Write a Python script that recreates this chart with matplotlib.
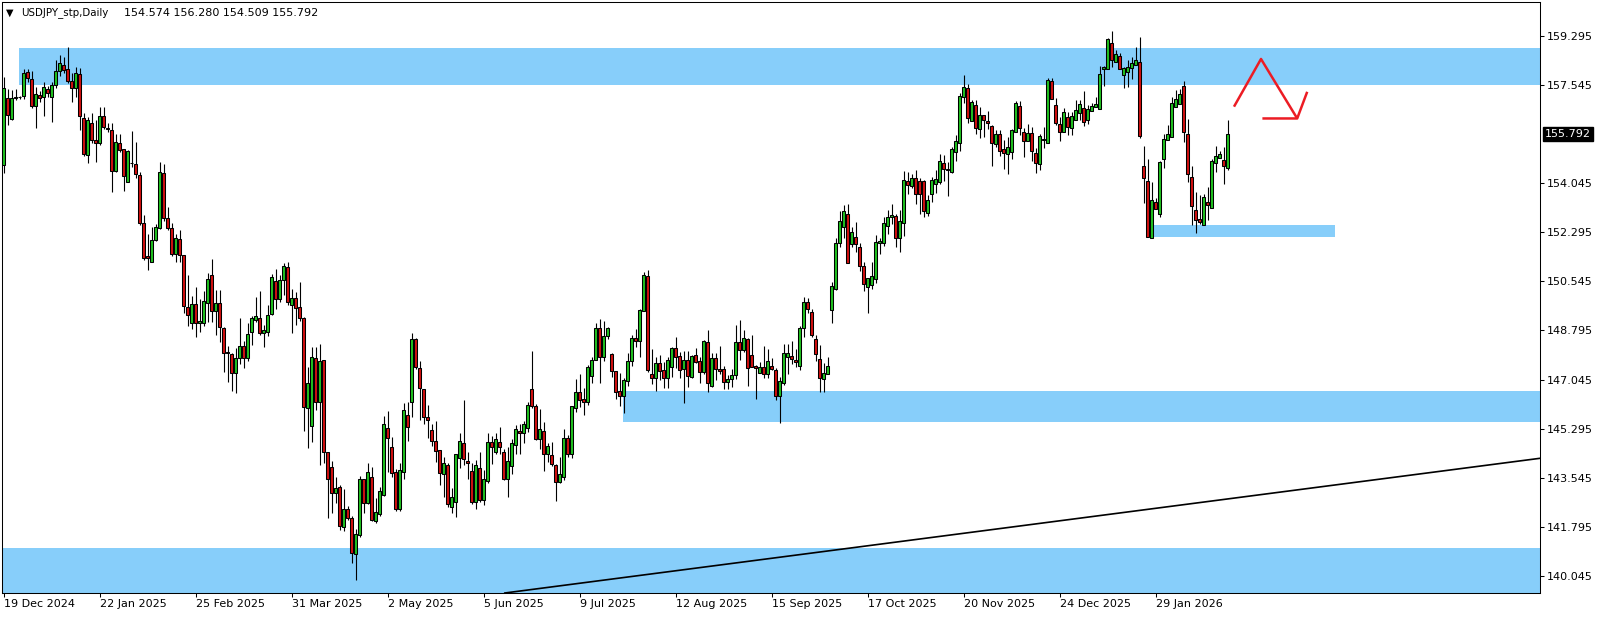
import numpy as np
import matplotlib.pyplot as plt

# USDJPY daily candles, bar 0 = 19 Dec 2024
opens = [
    154.69, 157.07, 156.32, 157.07, 157.10, 157.16, 157.99, 157.74, 156.80, 157.18,
    157.12, 157.40, 157.12, 157.53, 158.04, 158.25, 158.11, 157.68, 157.45, 157.93,
    156.38, 155.05, 156.20, 155.58, 155.46, 156.45, 156.00, 155.94, 154.49, 155.46,
    155.26, 154.07, 154.77, 154.71, 154.33, 152.61, 151.45, 151.22, 152.02, 152.46,
    154.39, 152.79, 152.43, 151.51, 152.04, 151.48, 149.64, 149.07, 149.74, 149.05,
    149.07, 149.76, 150.77, 149.50, 149.76, 148.90, 148.04, 147.94, 147.27, 147.80,
    148.24, 147.80, 148.75, 149.17, 149.23, 148.72, 148.73, 149.38, 150.56, 149.90,
    150.59, 151.04, 149.72, 149.94, 149.62, 149.23, 146.05, 145.40, 147.80, 146.26,
    147.76, 144.45, 143.92, 143.02, 143.20, 141.80, 142.42, 142.10, 140.82, 141.50,
    143.49, 142.63, 143.58, 142.00, 142.25, 142.95, 145.33, 144.65, 143.74, 142.42,
    143.76, 145.80, 146.23, 148.48, 147.44, 146.70, 145.70, 145.25, 144.85, 144.53,
    143.67, 144.00, 142.49, 142.69, 144.26, 144.80, 144.14, 143.78, 142.69, 143.88,
    142.77, 143.44, 144.83, 144.47, 144.83, 144.47, 143.49, 143.97, 144.73, 145.21,
    145.13, 145.31, 146.70, 146.10, 144.91, 145.21, 144.38, 144.35, 144.00, 143.40,
    143.58, 144.97, 144.41, 146.05, 146.59, 146.35, 146.25, 147.18, 147.74, 148.87,
    147.84, 148.59, 147.95, 147.35, 146.64, 146.47, 147.00, 147.72, 148.51, 148.43,
    149.50, 150.73, 147.23, 147.09, 147.62, 147.38, 147.11, 147.48, 148.16, 147.88,
    147.41, 147.76, 147.15, 147.92, 147.70, 147.32, 148.37, 146.83, 147.80, 147.42,
    147.41, 146.95, 147.05, 147.20, 148.37, 148.10, 148.48, 147.92, 147.53, 147.29,
    147.48, 147.24, 147.53, 147.38, 146.47, 146.91, 147.86, 147.90, 147.74, 147.54,
    148.87, 149.82, 149.44, 148.48, 147.77, 147.08, 147.23, 149.52, 150.26, 151.90,
    152.49, 152.93, 151.86, 152.14, 151.76, 151.09, 150.36, 150.41, 150.62, 151.90,
    151.92, 152.53, 152.83, 152.87, 152.10, 152.64, 154.12, 153.95, 154.22, 154.12,
    154.12, 152.97, 153.66, 154.00, 154.07, 154.75, 154.56, 154.45, 155.17, 155.46,
    157.12, 157.42, 156.27, 156.83, 155.96, 156.47, 156.26, 156.08, 155.43, 155.78,
    155.26, 155.07, 155.17, 155.85, 156.79, 155.85, 155.56, 155.82, 155.11, 154.71,
    155.62, 155.46, 157.68, 156.83, 156.14, 155.88, 156.39, 156.00, 156.29, 156.53,
    156.71, 156.29, 156.61, 156.75, 156.67, 158.10, 158.10, 159.03, 158.37, 158.57,
    157.90, 157.99, 158.14, 158.25, 158.35, 154.66, 154.12, 152.08, 153.36, 152.93,
    154.89, 155.58, 155.68, 156.77, 156.85, 157.51, 155.78, 154.27, 153.09, 152.77,
    152.55, 153.36, 153.15, 154.78, 154.93, 154.87, 154.574,
]
highs = [
    157.84, 157.39, 157.36, 157.39, 157.16, 158.11, 158.11, 158.05, 157.48, 157.32,
    157.66, 157.50, 157.64, 158.43, 158.61, 158.55, 158.91, 157.96, 158.19, 158.14,
    156.55, 156.41, 156.53, 156.29, 156.75, 156.75, 156.18, 156.18, 155.78, 155.79,
    155.26, 155.23, 155.90, 155.52, 154.43, 152.91, 152.25, 152.49, 152.59, 154.81,
    154.71, 153.21, 152.61, 152.25, 152.37, 151.48, 150.77, 150.02, 150.33, 149.90,
    150.20, 150.83, 151.34, 150.24, 150.24, 148.93, 148.24, 148.00, 148.16, 149.23,
    148.42, 149.07, 149.31, 150.00, 150.20, 148.99, 149.70, 150.79, 150.97, 150.77,
    151.21, 151.22, 150.29, 150.15, 150.51, 149.26, 147.50, 148.19, 148.19, 148.31,
    147.76, 144.47, 144.14, 143.58, 143.29, 143.13, 142.54, 142.19, 141.71, 143.62,
    143.49, 144.08, 143.94, 142.81, 143.23, 145.76, 145.94, 145.01, 143.85, 144.06,
    146.20, 146.23, 148.69, 148.54, 147.71, 146.70, 146.14, 145.48, 145.57, 144.53,
    144.30, 144.09, 143.17, 144.41, 145.13, 146.32, 144.47, 144.06, 144.18, 144.47,
    143.84, 145.15, 145.03, 145.15, 145.36, 144.56, 144.65, 144.91, 145.42, 145.48,
    145.58, 146.26, 148.07, 146.16, 145.98, 145.54, 144.79, 144.83, 144.03, 144.30,
    145.27, 145.07, 146.10, 147.05, 147.24, 146.76, 147.56, 147.84, 149.07, 149.22,
    149.14, 148.93, 147.98, 147.35, 147.27, 147.09, 148.00, 148.63, 148.85, 149.55,
    150.89, 150.95, 148.13, 147.86, 147.92, 147.68, 147.86, 148.22, 148.55, 148.04,
    148.07, 148.07, 147.92, 148.16, 147.86, 148.45, 148.81, 147.98, 147.98, 148.24,
    147.53, 147.20, 147.41, 148.99, 149.17, 148.81, 148.51, 148.63, 147.56, 147.68,
    148.24, 148.12, 147.80, 147.44, 147.15, 148.31, 148.30, 148.43, 148.13, 148.95,
    150.00, 149.97, 149.56, 148.63, 148.28, 147.62, 147.84, 150.51, 152.08, 153.05,
    153.27, 153.30, 152.49, 152.65, 151.90, 151.25, 150.65, 151.25, 152.20, 152.10,
    152.83, 153.09, 153.30, 152.94, 153.09, 154.49, 154.45, 154.36, 154.51, 154.22,
    154.16, 153.62, 154.28, 154.51, 155.08, 155.05, 154.81, 155.34, 155.76, 157.25,
    157.90, 157.58, 157.01, 157.01, 156.77, 156.47, 156.61, 156.12, 155.94, 155.94,
    155.58, 155.68, 155.99, 156.97, 156.98, 156.00, 156.17, 156.03, 155.28, 155.80,
    156.03, 157.80, 157.80, 157.07, 156.41, 156.71, 156.59, 156.59, 157.01, 157.01,
    157.34, 156.83, 156.89, 157.10, 158.22, 158.22, 159.23, 159.46, 158.79, 158.67,
    158.19, 158.43, 158.53, 158.88, 159.24, 155.37, 154.89, 154.07, 153.53, 154.85,
    155.78, 156.12, 157.13, 157.36, 157.39, 157.68, 156.33, 154.67, 153.74, 153.62,
    153.66, 153.92, 154.89, 155.37, 155.20, 155.34, 156.28,
]
lows = [
    154.42, 156.12, 156.29, 157.01, 157.05, 157.04, 157.66, 156.72, 156.02, 156.92,
    156.44, 157.10, 156.23, 157.45, 157.86, 157.98, 157.60, 156.92, 157.10, 155.94,
    155.02, 154.75, 155.46, 154.79, 155.40, 155.99, 155.88, 153.72, 154.45, 155.16,
    153.78, 154.07, 154.63, 154.22, 152.55, 151.30, 150.95, 151.22, 152.00, 152.40,
    152.70, 152.37, 151.45, 151.24, 151.24, 149.40, 148.95, 148.83, 148.57, 148.75,
    148.95, 149.11, 149.11, 148.63, 148.39, 147.33, 146.97, 146.65, 146.58, 147.59,
    147.44, 147.72, 148.28, 149.11, 148.63, 148.19, 148.61, 149.34, 149.56, 149.82,
    150.06, 149.70, 148.72, 148.99, 149.13, 145.22, 144.59, 144.83, 145.96, 144.00,
    144.06, 142.10, 142.28, 142.63, 141.68, 141.66, 142.05, 140.52, 139.90, 141.45,
    142.30, 142.60, 142.01, 141.95, 142.20, 142.90, 143.76, 143.58, 142.37, 142.37,
    143.49, 144.87, 145.72, 147.41, 145.60, 145.46, 144.95, 144.68, 144.12, 143.29,
    142.85, 142.51, 142.28, 142.16, 143.88, 144.00, 143.49, 142.60, 142.42, 142.70,
    142.57, 143.37, 144.02, 144.41, 144.38, 143.46, 142.85, 143.67, 144.39, 144.39,
    144.77, 145.19, 146.05, 144.89, 144.56, 143.80, 144.12, 143.96, 142.73, 143.37,
    143.46, 144.27, 144.25, 145.90, 146.08, 145.78, 146.14, 146.91, 147.74, 146.93,
    147.72, 148.50, 147.12, 146.34, 146.11, 145.86, 146.81, 147.53, 148.22, 147.84,
    149.50, 147.32, 146.88, 146.64, 147.03, 146.73, 146.75, 147.15, 147.44, 147.11,
    146.22, 146.77, 147.09, 147.62, 146.91, 147.24, 146.61, 146.79, 147.03, 147.24,
    146.70, 146.70, 146.79, 147.05, 147.74, 148.04, 146.83, 147.50, 146.34, 147.29,
    147.09, 147.11, 147.38, 146.32, 145.51, 146.85, 147.23, 147.60, 147.50, 147.40,
    148.57, 149.40, 148.57, 147.72, 146.61, 146.61, 147.23, 149.07, 150.24, 151.76,
    152.10, 151.19, 151.76, 151.60, 150.91, 150.21, 149.40, 150.26, 150.47, 151.51,
    151.80, 152.22, 152.58, 151.78, 151.58, 152.17, 153.66, 153.88, 153.30, 152.95,
    152.85, 152.89, 153.38, 153.68, 154.01, 154.13, 153.60, 154.42, 154.83, 155.20,
    156.89, 156.20, 156.27, 155.80, 155.66, 155.70, 155.97, 154.66, 155.34, 155.01,
    154.54, 154.36, 154.89, 155.85, 155.76, 154.96, 155.56, 154.84, 154.39, 154.53,
    155.28, 155.46, 157.03, 156.10, 155.56, 155.88, 155.76, 155.76, 156.29, 156.29,
    156.09, 156.14, 156.61, 156.75, 156.67, 157.52, 158.10, 158.19, 158.37, 158.10,
    157.42, 157.46, 157.74, 158.25, 155.64, 153.33, 152.11, 152.08, 153.11, 152.85,
    154.57, 155.58, 155.68, 156.77, 156.85, 155.52, 154.07, 152.55, 152.28, 152.60,
    152.55, 152.73, 153.15, 154.43, 154.93, 154.00, 154.509,
]
closes = [
    157.42, 156.47, 157.07, 157.10, 157.13, 157.96, 157.78, 156.80, 157.21, 157.07,
    157.46, 157.27, 157.53, 158.04, 158.31, 158.08, 157.70, 157.45, 157.96, 156.45,
    155.08, 156.29, 155.58, 155.46, 156.45, 156.03, 155.96, 154.49, 155.50, 155.22,
    154.31, 155.20, 154.75, 154.36, 152.61, 151.36, 151.36, 152.02, 152.49, 154.43,
    152.79, 152.43, 151.51, 152.08, 151.48, 149.66, 149.35, 149.74, 149.05, 149.13,
    149.84, 150.63, 149.49, 149.76, 148.91, 148.01, 147.98, 147.29, 147.80, 148.25,
    147.82, 148.67, 149.23, 149.31, 148.69, 148.81, 149.34, 150.71, 149.92, 150.59,
    151.09, 149.82, 149.97, 149.61, 149.23, 146.08, 146.91, 147.84, 146.26, 147.71,
    144.45, 143.49, 143.02, 143.17, 141.84, 142.42, 142.13, 140.85, 141.56, 143.49,
    142.63, 143.74, 142.04, 142.34, 143.09, 145.45, 144.95, 143.73, 142.43, 143.84,
    145.95, 145.37, 148.48, 147.50, 146.76, 145.72, 145.62, 144.86, 144.51, 143.70,
    144.06, 142.60, 142.87, 144.39, 144.86, 144.20, 144.06, 142.67, 144.00, 142.75,
    143.52, 144.83, 144.63, 144.91, 144.63, 143.52, 144.14, 144.77, 145.27, 145.15,
    145.48, 146.14, 146.10, 144.91, 145.30, 144.38, 144.69, 144.02, 143.40, 143.68,
    144.97, 144.41, 146.10, 146.59, 146.31, 146.25, 147.50, 147.74, 148.87, 147.84,
    148.59, 148.87, 147.36, 146.61, 146.47, 147.03, 147.71, 148.51, 148.43, 149.52,
    150.77, 147.38, 147.11, 147.62, 147.36, 147.11, 147.74, 148.16, 147.86, 147.38,
    147.76, 147.17, 147.90, 147.68, 147.32, 148.42, 146.93, 147.80, 147.41, 147.36,
    146.95, 147.05, 147.20, 148.37, 148.10, 148.51, 147.44, 147.50, 147.44, 147.48,
    147.23, 147.70, 147.41, 146.47, 147.00, 148.01, 148.01, 147.77, 147.68, 148.90,
    149.82, 149.55, 148.63, 147.95, 147.11, 147.29, 147.53, 150.38, 151.90, 152.71,
    153.06, 151.19, 152.32, 151.86, 151.09, 150.44, 150.65, 150.75, 151.94, 151.98,
    152.61, 152.85, 152.91, 152.10, 152.71, 154.16, 153.98, 154.22, 153.66, 153.65,
    153.06, 153.44, 154.16, 154.19, 154.83, 154.54, 154.52, 155.25, 155.55, 157.15,
    157.46, 156.38, 156.92, 156.02, 156.47, 156.30, 156.18, 155.49, 155.78, 155.20,
    155.11, 155.32, 155.94, 156.89, 156.02, 155.56, 155.82, 155.20, 154.75, 155.72,
    155.60, 157.72, 157.03, 156.20, 155.88, 156.57, 156.03, 156.44, 156.65, 156.86,
    156.23, 156.67, 156.79, 156.85, 157.93, 158.17, 159.18, 158.43, 158.65, 158.10,
    158.14, 158.17, 158.34, 158.43, 155.74, 154.22, 152.14, 153.44, 153.11, 154.79,
    155.62, 155.78, 156.89, 157.03, 157.22, 155.88, 154.37, 153.24, 152.73, 152.67,
    153.54, 153.27, 154.83, 155.01, 155.07, 154.67, 155.792,
]

date_labels = ["19 Dec 2024", "22 Jan 2025", "25 Feb 2025", "31 Mar 2025", "2 May 2025",
               "5 Jun 2025", "9 Jul 2025", "12 Aug 2025", "15 Sep 2025", "17 Oct 2025",
               "20 Nov 2025", "24 Dec 2025", "29 Jan 2026"]
label_step = 24
price_ticks = [159.295, 157.545, 154.045, 152.295, 150.545, 148.795,
               147.045, 145.295, 143.545, 141.795, 140.045]
last_price = 155.792
header = "USDJPY_stp,Daily"
header_prices = "154.574 156.280 154.509 155.792"

# supply/demand zones: (bar from, bar to, price low, price high)
zones = [(3.85, 400, 157.545, 158.87),
         (287.0, 332.9, 152.14, 152.55),
         (154.85, 400, 145.54, 146.65),
         (-5, 400, 138.0, 141.03)]
trend_x = [125.3, 384.1]
trend_y = [139.44, 144.24]
zig_x = [307.6, 314.35, 323.4]
zig_y = [156.77, 158.47, 156.35]
head_x = [314.7, 323.4, 325.9]
head_y = [156.35, 156.35, 157.30]

W, H = 1604, 617
fig = plt.figure(figsize=(W / 100, H / 100), dpi=100)
ax = fig.add_axes([2 / W, 24 / H, 1538 / W, 591 / H])
ax.set_xlim(-0.4, 384.1)
ax.set_ylim(139.44, 160.50)

o = np.array(opens); c = np.array(closes)
hi = np.array(highs); lo = np.array(lows)
x = np.arange(len(o))

for x0, x1, p0, p1 in zones:
    ax.fill_between([x0, x1], p0, p1, color='#87cefa', lw=0, zorder=0)

ax.plot(trend_x, trend_y, color='black', lw=1.2, zorder=1)

ax.vlines(x, lo, hi, color='black', lw=0.8, zorder=2)
up = c >= o
body = np.maximum(np.abs(c - o), 0.02)
ax.bar(x[up], body[up], bottom=o[up], width=0.6, color='#20c020',
       edgecolor='black', linewidth=0.75, zorder=3)
ax.bar(x[~up], body[~up], bottom=c[~up], width=0.6, color='#d01010',
       edgecolor='black', linewidth=0.75, zorder=3)

red = '#ec1c24'
ax.plot(zig_x, zig_y, color=red, lw=1.8, zorder=4, solid_capstyle='butt')
ax.plot(head_x, head_y, color=red, lw=1.8, zorder=4, solid_capstyle='butt')

# axes styling, MT4 look
ax.yaxis.tick_right()
ax.set_yticks(price_ticks)
ax.set_yticklabels(['%.3f' % p for p in price_ticks])
ax.set_xticks(np.arange(len(date_labels)) * label_step)
ax.set_xticklabels(date_labels, ha='left')
ax.tick_params(axis='both', direction='out', length=3, width=0.75,
               labelsize=8, colors='black', pad=2)
ax.tick_params(axis='x', pad=1.5)
for s in ax.spines.values():
    s.set_linewidth(0.75)
    s.set_color('black')

ax.annotate('%.3f' % last_price, xy=(1, last_price), xycoords=('axes fraction', 'data'),
            xytext=(3.5, 0), textcoords='offset points', ha='left', va='center',
            fontsize=8, color='white',
            bbox=dict(boxstyle='square,pad=0.18', fc='black', ec='black'))

fig.text(6 / W, 1 - 13 / H, '\u25bc', fontsize=7, va='center', ha='left')
fig.text(21 / W, 1 - 13 / H, header, fontsize=7.4, va='center', ha='left')
fig.text(124 / W, 1 - 13 / H, header_prices, fontsize=8, va='center', ha='left')

fig.savefig('out.png', dpi=100, facecolor='white')
